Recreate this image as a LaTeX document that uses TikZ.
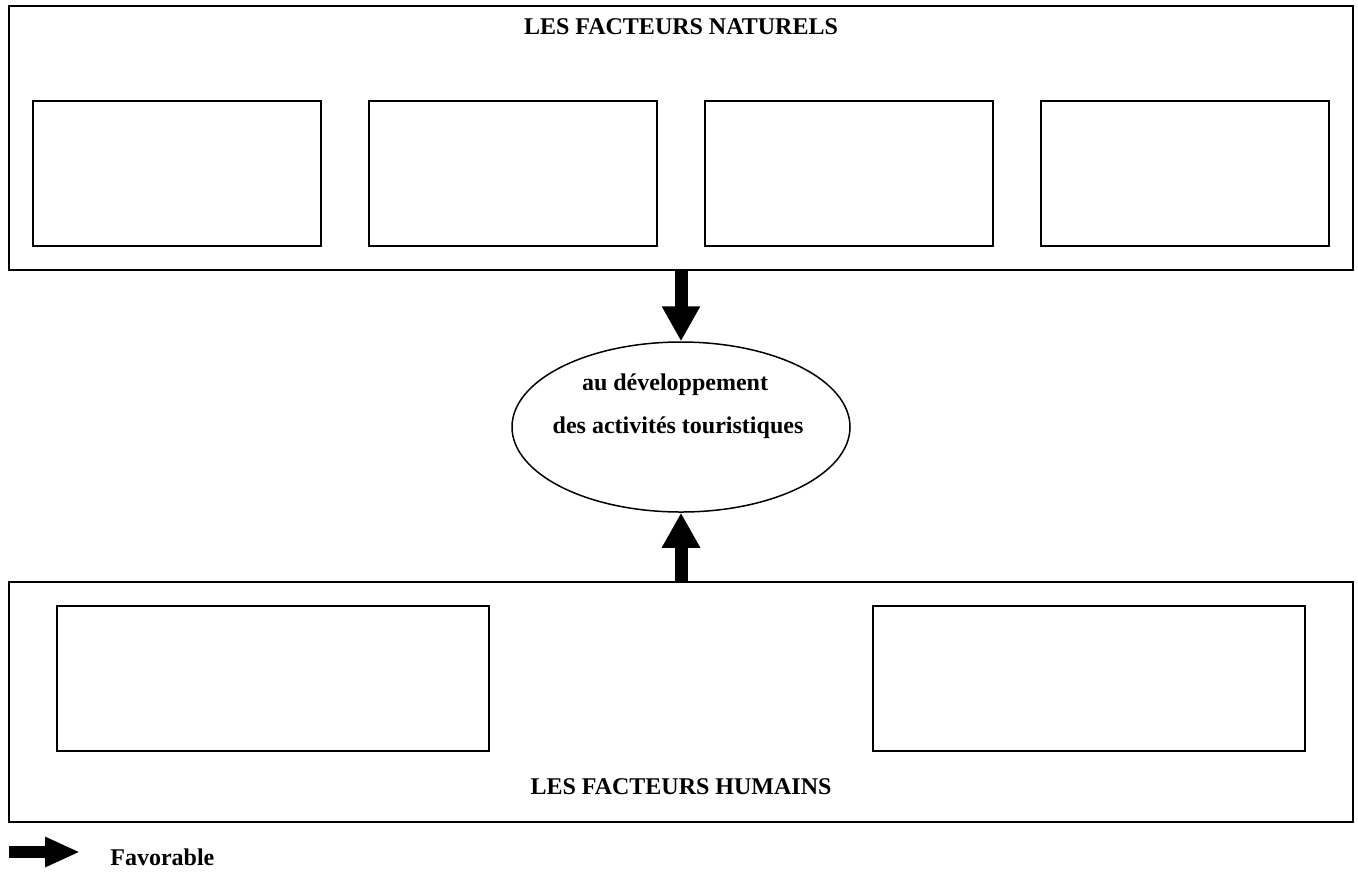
\documentclass[tikz,border=0pt]{standalone}
\usepackage{fontspec}
\setmainfont{Liberation Serif}
\usetikzlibrary{arrows.meta,shapes.geometric}
\tikzset{
  outerbox/.style={draw, line width=1pt, minimum width=672pt, inner sep=0pt},
  innerbox/.style={draw, line width=0.75pt, minimum height=72.5pt, inner sep=0pt},
  lbl/.style={font=\fontsize{12pt}{14pt}\selectfont\bfseries, inner sep=0pt},
  bigarrow/.style={line width=6.5pt, -{Triangle[width=18pt,length=17.5pt]}},
  legarrow/.style={line width=6pt, -{Triangle[width=14pt,length=17.5pt]}}
}
\begin{document}
\begin{tikzpicture}[x=0.5pt,y=-0.5pt]
\useasboundingbox (0,0) rectangle (1358,875);
% top group
\node[outerbox, minimum height=132pt] (nat) at (681,138) {};
\node[lbl] (natt) at (681,27) {LES FACTEURS NATURELS};
\node[innerbox, minimum width=144pt] (n1) at (177,173.5) {};
\node[innerbox, minimum width=144pt] (n2) at (513,173.5) {};
\node[innerbox, minimum width=144pt] (n3) at (849,173.5) {};
\node[innerbox, minimum width=144pt] (n4) at (1185,173.5) {};
% ellipse
\node[draw, ellipse, line width=0.75pt, minimum width=169pt, minimum height=85pt, inner sep=0pt] (dev) at (681,427) {};
\node[lbl] (l1) at (675,385) {au développement};
\node[lbl] (l2) at (678,428) {des activités touristiques};
% bottom group
\node[outerbox, minimum height=120pt] (hum) at (681,702) {};
\node[lbl] (humt) at (681,787) {LES FACTEURS HUMAINS};
\node[innerbox, minimum width=216pt] (h1) at (273,678.5) {};
\node[innerbox, minimum width=216pt] (h2) at (1089,678.5) {};
% arrows
\draw[bigarrow] (nat.south) -- (dev.north);
\draw[bigarrow] (hum.north) -- (dev.south);
% legend
\coordinate (la) at (9,852);
\coordinate (lb) at (80,852);
\draw[legarrow] (la) -- (lb);
\node[lbl, anchor=west] (fav) at (110,857) {Favorable};
\end{tikzpicture}
\end{document}
